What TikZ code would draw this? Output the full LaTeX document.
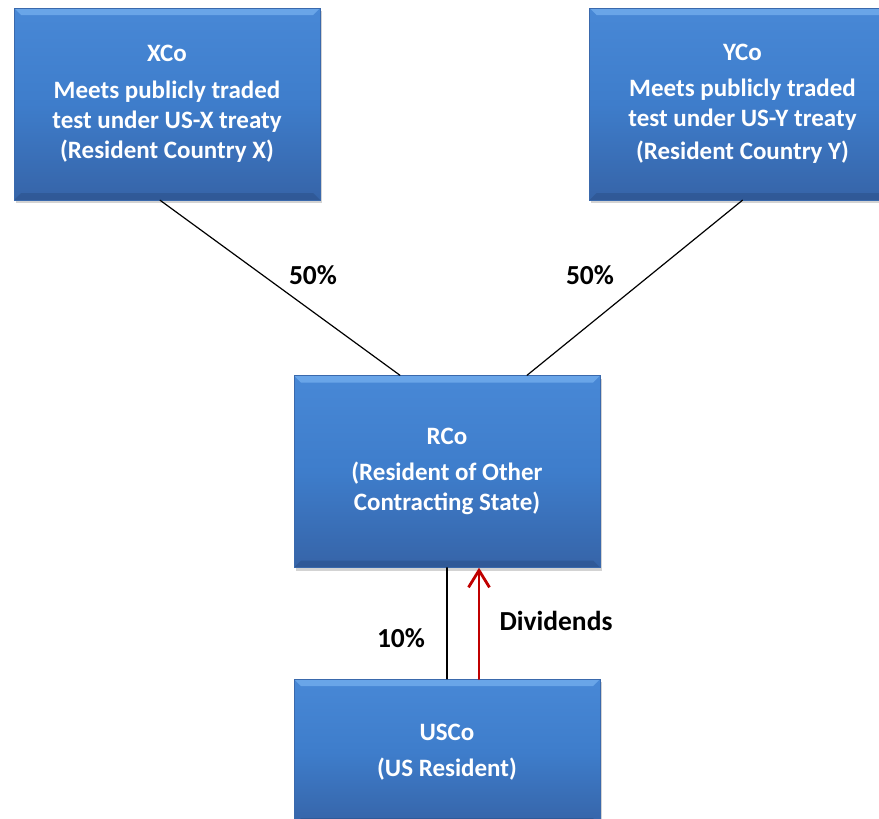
\documentclass[tikz,border=0pt]{standalone}
\usepackage{fontspec}
\setmainfont{Carlito}
\usetikzlibrary{arrows.meta,shadows}
\definecolor{boxtop}{RGB}{72,136,214}
\definecolor{boxmid}{RGB}{62,125,203}
\definecolor{boxbot}{RGB}{54,100,168}
\definecolor{boxedge}{RGB}{58,105,172}
\definecolor{bevhi}{RGB}{105,165,232}
\definecolor{bevlo}{RGB}{44,82,140}
\definecolor{divred}{RGB}{192,0,0}
\tikzset{
  entity/.style={minimum width=306pt,minimum height=192pt,inner sep=0pt,
    top color=boxtop,bottom color=boxbot,middle color=boxmid,
    draw=boxedge,line width=0.4pt,
    drop shadow={shadow xshift=1.5pt,shadow yshift=-3pt,opacity=0.35},
    path picture={
      \fill[bevhi] (path picture bounding box.north west) -- (path picture bounding box.north east)
        -- ([xshift=-7pt,yshift=-7pt]path picture bounding box.north east)
        -- ([xshift=7pt,yshift=-7pt]path picture bounding box.north west) -- cycle;
      \fill[bevlo,opacity=0.6] (path picture bounding box.south west) -- (path picture bounding box.south east)
        -- ([xshift=-7pt,yshift=7pt]path picture bounding box.south east)
        -- ([xshift=7pt,yshift=7pt]path picture bounding box.south west) -- cycle;
    },
    text=white,font=\fontsize{25}{30}\selectfont\bfseries,align=center},
  pct/.style={font=\fontsize{27.5}{32}\selectfont\bfseries,text=black},
  own/.style={line width=1.2pt,black},
  divi/.style={line width=2.8pt,draw=divred,-{Straight Barb[length=17pt,width=21pt]}}
}
\begin{document}
\begin{tikzpicture}[x=1pt,y=-1pt,line cap=round]
	\useasboundingbox (0,0) rectangle (879,819);
	% the companies
	\node[entity] (xco) at (167,104) {XCo\\[7pt]Meets publicly traded\\test under US-X treaty\\(Resident Country X)};
	\node[entity] (yco) at (742.5,104) {YCo\\[6pt]Meets publicly traded\\test under US-Y treaty\\[3pt](Resident Country Y)};
	\node[entity] (rco) at (447,471.5) {RCo\\[6pt](Resident of Other\\Contracting State)};
	\node[entity,minimum height=146pt] (usco) at (447,752) {USCo\\[6pt](US Resident)};
	% ownership and payments
	\draw[own] ([xshift=-7pt]xco.south) -- ([xshift=-47pt]rco.north);
	\draw[own] (yco.south) -- ([xshift=80pt]rco.north);
	\draw[own] (rco.south) -- (usco.north);
	\draw[divi] ([xshift=32pt]usco.north) -- ([xshift=32pt]rco.south);
	\node[pct] (px) at (313,275) {50\%};
	\node[pct] (py) at (590,275) {50\%};
	\node[pct] (pr) at (401,638) {10\%};
	\node[pct] (dv) at (556,621) {Dividends};
\end{tikzpicture}
\end{document}
